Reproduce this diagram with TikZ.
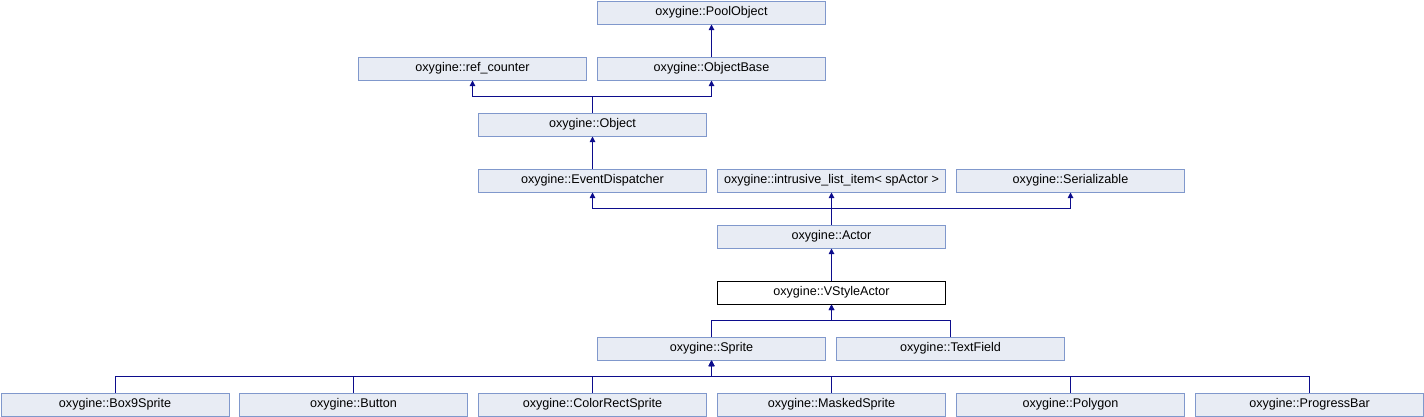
\documentclass[tikz,border=0pt]{standalone}
\usepackage{fontspec}
\setmainfont{Liberation Sans}
\usetikzlibrary{arrows.meta}
\definecolor{boxfill}{HTML}{E8ECF4}
\definecolor{boxline}{HTML}{8098CC}
\definecolor{edgecol}{HTML}{0C0C8C}
\tikzset{
  cls/.style={draw=boxline, fill=boxfill, line width=1pt, minimum width=228pt, minimum height=23pt,
    inner sep=0pt, font=\fontsize{12.6}{15}\selectfont, anchor=north west},
  cur/.style={cls, draw=black, fill=white},
  edge/.style={draw=edgecol, line width=1pt, -{Triangle[length=5.5pt,width=5.5pt]}}
}
\begin{document}
\begin{tikzpicture}[x=1pt,y=-1pt]
\useasboundingbox (0,0) rectangle (1424,416);
% row 0
\node[cls] (pool) at (597,0.5) {oxygine::PoolObject};
% row 1
\node[cls] (rc) at (358,56.5) {oxygine::ref\_counter};
\node[cls] (ob) at (597,56.5) {oxygine::ObjectBase};
% row 2
\node[cls] (obj) at (478,112.5) {oxygine::Object};
% row 3
\node[cls] (ed) at (478,168.5) {oxygine::EventDispatcher};
\node[cls] (ili) at (717,168.5) {oxygine::intrusive\_list\_item< spActor >};
\node[cls] (ser) at (956,168.5) {oxygine::Serializable};
% row 4
\node[cls] (act) at (717,224.5) {oxygine::Actor};
% row 5
\node[cur] (vsa) at (717,280.5) {oxygine::VStyleActor};
% row 6
\node[cls] (spr) at (597,336.5) {oxygine::Sprite};
\node[cls] (tf) at (836,336.5) {oxygine::TextField};
% row 7
\node[cls] (b9) at (0.5,392.5) {oxygine::Box9Sprite};
\node[cls] (btn) at (239,392.5) {oxygine::Button};
\node[cls] (crs) at (478,392.5) {oxygine::ColorRectSprite};
\node[cls] (ms) at (717,392.5) {oxygine::MaskedSprite};
\node[cls] (poly) at (956,392.5) {oxygine::Polygon};
\node[cls] (pb) at (1195,392.5) {oxygine::ProgressBar};
% edges
\draw[edge] (ob.north) -- (pool.south);
\draw[edge] (obj.north) -- ++(0,-16) -| (rc.south);
\draw[edge] (obj.north) -- ++(0,-16) -| (ob.south);
\draw[edge] (ed.north) -- (obj.south);
\draw[edge] (act.north) -- ++(0,-16) -| (ed.south);
\draw[edge] (act.north) -- (ili.south);
\draw[edge] (act.north) -- ++(0,-16) -| (ser.south);
\draw[edge] (vsa.north) -- (act.south);
\draw[edge] (spr.north) -- ++(0,-16) -| (vsa.south);
\draw[edge] (tf.north) -- ++(0,-16) -| (vsa.south);
\draw[edge] (b9.north) -- ++(0,-16) -| (spr.south);
\draw[edge] (btn.north) -- ++(0,-16) -| (spr.south);
\draw[edge] (crs.north) -- ++(0,-16) -| (spr.south);
\draw[edge] (ms.north) -- ++(0,-16) -| (spr.south);
\draw[edge] (poly.north) -- ++(0,-16) -| (spr.south);
\draw[edge] (pb.north) -- ++(0,-16) -| (spr.south);
\end{tikzpicture}
\end{document}
